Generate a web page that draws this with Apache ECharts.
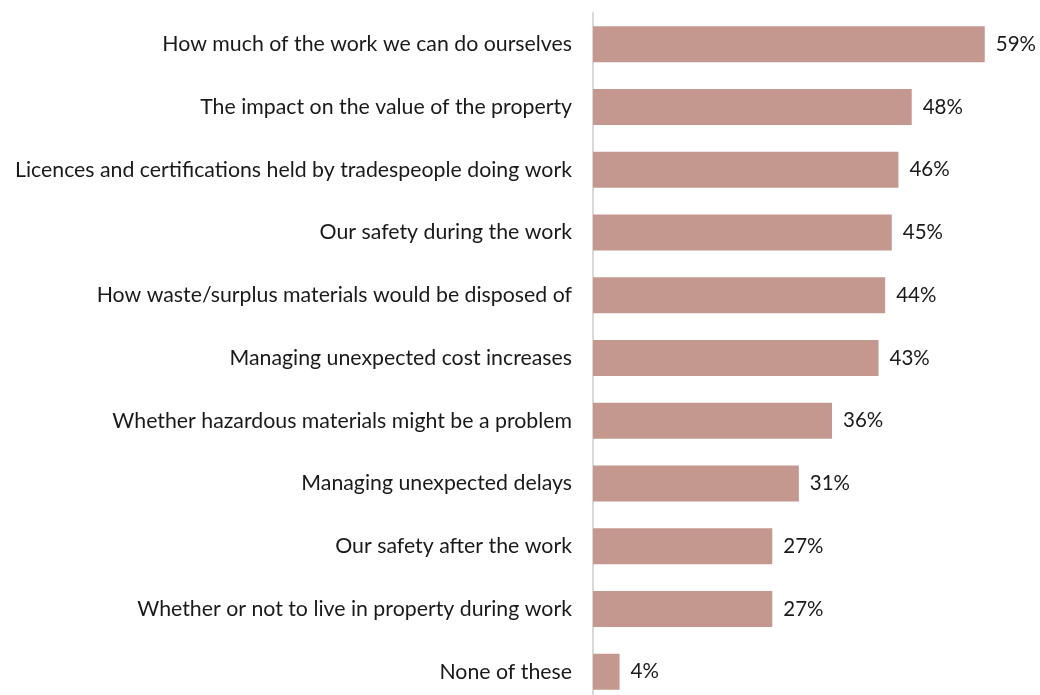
<!DOCTYPE html>
<html>
<head>
<meta charset="utf-8">
<script src="https://cdn.jsdelivr.net/npm/echarts@6/dist/echarts.min.js"></script>
<style>
  html, body { margin: 0; padding: 0; background: #ffffff; }
  #chart { width: 1040px; height: 695px; }
</style>
</head>
<body>
<div id="chart"></div>
<script>
// Considerations when planning renovation work (share of respondents, %)
const categories = [
  "How much of the work we can do ourselves",
  "The impact on the value of the property",
  "Licences and certifications held by tradespeople doing work",
  "Our safety during the work",
  "How waste/surplus materials would be disposed of",
  "Managing unexpected cost increases",
  "Whether hazardous materials might be a problem",
  "Managing unexpected delays",
  "Our safety after the work",
  "Whether or not to live in property during work",
  "None of these"
];
const shares = [59, 48, 46, 45, 44, 43, 36, 31, 27, 27, 4];

const chart = echarts.init(document.getElementById('chart'), null, { renderer: 'canvas' });
const font = 'Lato, "Noto Sans", sans-serif';

chart.setOption({
  animation: false,
  backgroundColor: '#ffffff',
  grid: {
    left: 593, top: 13, width: 398.4, height: 690,
    containLabel: false,
    outerBoundsMode: 'none'
  },
  xAxis: {
    type: 'value',
    min: 0,
    max: 60,
    show: false
  },
  yAxis: {
    type: 'category',
    inverse: true,
    data: categories,
    axisLine: { show: true, lineStyle: { color: '#d9d9d9', width: 2 } },
    axisTick: { show: false },
    axisLabel: {
      margin: 21,
      color: '#1a1a1a',
      fontFamily: font,
      fontSize: 21.3
    }
  },
  series: [{
    type: 'bar',
    data: shares,
    barWidth: 36,
    itemStyle: { color: '#c4988e' },
    label: {
      show: true,
      position: 'right',
      distance: 11,
      formatter: '{c}%',
      color: '#1a1a1a',
      fontFamily: font,
      fontSize: 20.5
    }
  }]
});
</script>
</body>
</html>
